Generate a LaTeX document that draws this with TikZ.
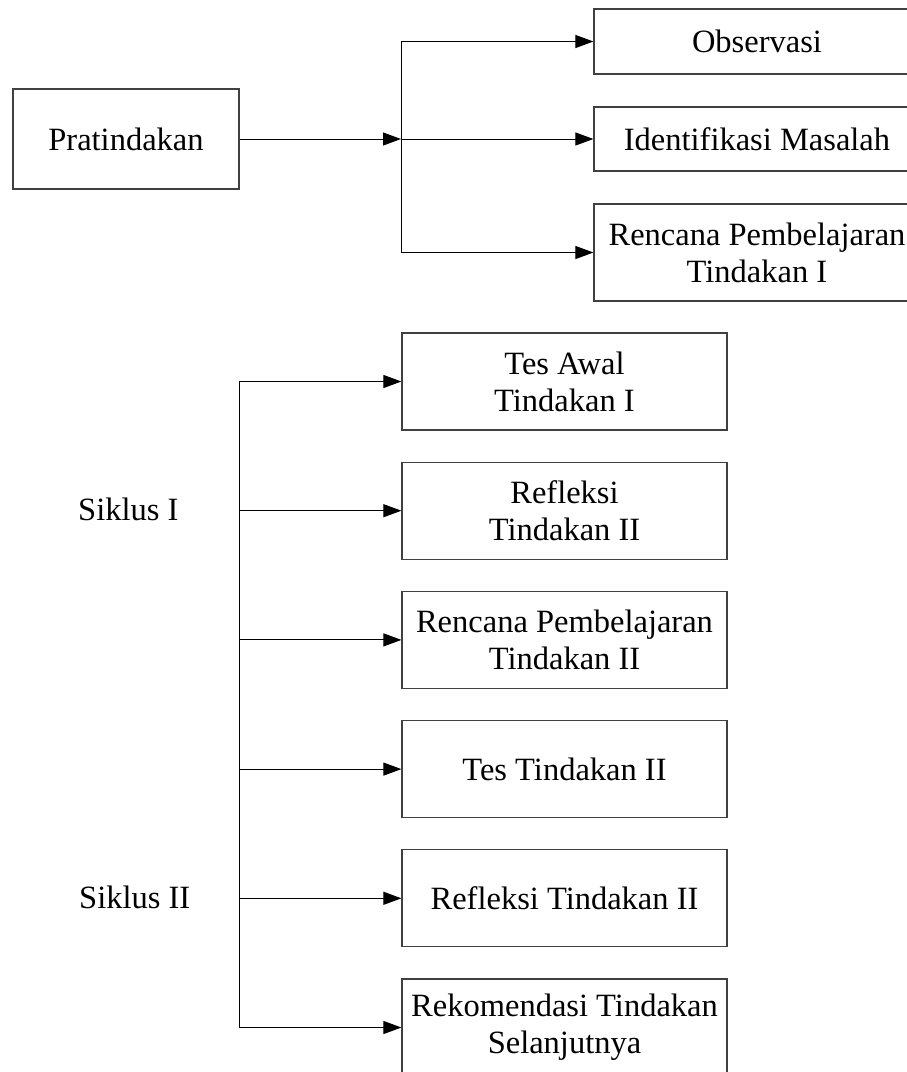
\documentclass[tikz,border=0pt]{standalone}
\usepackage{fontspec}
\setmainfont{Liberation Serif}
\usetikzlibrary{arrows.meta}
\begin{document}
\begin{tikzpicture}[x=1pt,y=-1pt,
  box/.style={draw=black!75, line width=1.2pt, rectangle, inner sep=0pt, align=center,
    font=\fontsize{32.5}{37}\selectfont},
  lbl/.style={inner sep=0pt, font=\fontsize{32.5}{37}\selectfont},
  conn/.style={line width=1pt, -{Triangle[length=18pt,width=13pt]}},
  wire/.style={line width=1pt}]
\useasboundingbox (0,0) rectangle (907,1072);
% top part
\node[box, minimum width=226pt, minimum height=100pt] (pra) at (126,139) {Pratindakan};
\node[box, minimum width=326pt, minimum height=65pt] (obs) at (757,41.5) {Observasi};
\node[box, minimum width=326pt, minimum height=64pt] (idm) at (757,139) {Identifikasi Masalah};
\node[box, minimum width=326pt, minimum height=97pt] (rpt) at (757,252.5) {Rencana Pembelajaran\\Tindakan I};
\coordinate (j1) at (401,139);
\coordinate (ja) at (401,41.5);
\coordinate (jc) at (401,252.5);
\draw[conn] (pra.east) -- (j1);
\draw[wire] (ja) -- (jc);
\draw[conn] (ja) -- (obs.west);
\draw[conn] (j1) -- (idm.west);
\draw[conn] (jc) -- (rpt.west);
% lower part
\node[box, minimum width=325pt, minimum height=97pt] (b1) at (564.5,381.5) {Tes Awal\\Tindakan I};
\node[box, minimum width=325pt, minimum height=97pt] (b2) at (564.5,510.7) {Refleksi\\Tindakan II};
\node[box, minimum width=325pt, minimum height=97pt] (b3) at (564.5,639.9) {Rencana Pembelajaran\\Tindakan II};
\node[box, minimum width=325pt, minimum height=97pt] (b4) at (564.5,769.1) {Tes Tindakan II};
\node[box, minimum width=325pt, minimum height=97pt] (b5) at (564.5,898.3) {Refleksi Tindakan II};
\node[box, minimum width=325pt, minimum height=97pt] (b6) at (564.5,1027.5) {Rekomendasi Tindakan\\Selanjutnya};
\coordinate (s1) at (239,381.5);
\coordinate (s2) at (239,510.7);
\coordinate (s3) at (239,639.9);
\coordinate (s4) at (239,769.1);
\coordinate (s5) at (239,898.3);
\coordinate (s6) at (239,1027.5);
\draw[wire] (s1) -- (s6);
\foreach \i in {1,...,6} {\draw[conn] (s\i) -- (b\i.west);}
\node[lbl, anchor=base west] (sk1) at (78,520) {Siklus I};
\node[lbl, anchor=base west] (sk2) at (79,908) {Siklus II};
\end{tikzpicture}
\end{document}
